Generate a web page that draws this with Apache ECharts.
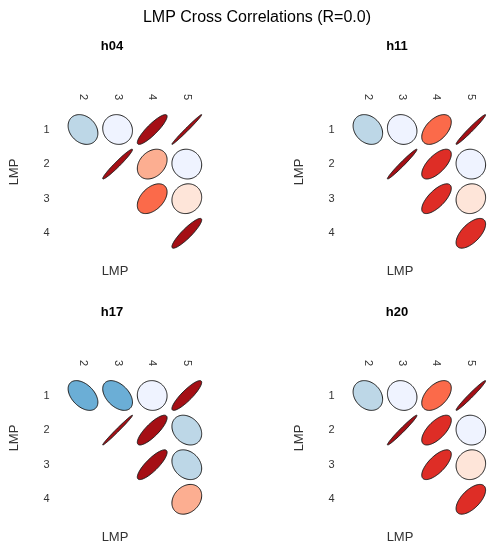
<!DOCTYPE html>
<html>
<head>
<meta charset="utf-8">
<script src="https://cdn.jsdelivr.net/npm/echarts@6/dist/echarts.min.js"></script>
<style>html,body{margin:0;padding:0;background:#fff;}#c{width:488px;height:544px;}</style>
</head>
<body>
<div id="c"></div>
<script>
// Category labels
const colLabels = ['2', '3', '4', '5'];
const rowLabels = ['1', '2', '3', '4'];
const panelNames = ['h04', 'h11', 'h17', 'h20'];
const mainTitle = 'LMP Cross Correlations (R=0.0)';
const axisName = 'LMP';

// Upper-triangle correlations, row by row:
// row1: c2,c3,c4,c5 | row2: c3,c4,c5 | row3: c4,c5 | row4: c5
const h04 = [-0.25, -0.08, 0.88, 0.99, 0.97, 0.30, -0.05, 0.45, 0.10, 0.90];
const h11 = [-0.25, -0.10, 0.50, 0.98, 0.98, 0.66, -0.05, 0.70, 0.08, 0.62];
const h17 = [-0.45, -0.45, -0.03, 0.88, 0.99, 0.82, -0.25, 0.83, -0.25, 0.25];
const h20 = [-0.25, -0.12, 0.50, 0.98, 0.98, 0.66, -0.05, 0.70, 0.08, 0.62];
const panelValues = [h04, h11, h17, h20];

const palette = ['#08519C', '#3182BD', '#6BAED6', '#BDD7E7', '#EFF3FF',
                 '#FEE5D9', '#FCAE91', '#FB6A4A', '#DE2D26', '#A50F15'];
function colorFor(r) {
  let idx = Math.floor((r + 1) * 5);
  if (idx > 9) idx = 9;
  if (idx < 0) idx = 0;
  return palette[idx];
}

function toCells(vals) {
  const out = [];
  let k = 0;
  for (let i = 0; i < rowLabels.length; i++) {
    for (let j = i; j < colLabels.length; j++) {
      out.push([j, i, vals[k++]]);
    }
  }
  return out;
}

const FONT = '"Liberation Sans", Arial, sans-serif';
const cell = 34.6;
const gw = cell * 4, gh = cell * 4;
const offX = 285, offY = 266;
const baseLeft = 65.7, baseTop = 112.2;

const grids = [], xAxes = [], yAxes = [], series = [], graphics = [];

graphics.push({
  type: 'text', x: 257, y: 18,
  style: {text: mainTitle, font: '16px ' + FONT, fill: '#000', textAlign: 'center', textVerticalAlign: 'middle'}
});

panelNames.forEach((name, p) => {
  const ox = (p % 2) * offX, oy = Math.floor(p / 2) * offY;
  grids.push({left: baseLeft + ox, top: baseTop + oy, width: gw, height: gh});
  xAxes.push({
    type: 'category', gridIndex: p, data: colLabels, position: 'top',
    axisLine: {show: false}, axisTick: {show: false}, splitLine: {show: false},
    axisLabel: {rotate: 90, margin: 12, fontSize: 11, color: '#333', fontFamily: FONT, interval: 0}
  });
  yAxes.push({
    type: 'category', gridIndex: p, data: rowLabels, inverse: true,
    axisLine: {show: false}, axisTick: {show: false}, splitLine: {show: false},
    axisLabel: {margin: 16, fontSize: 11, color: '#333', fontFamily: FONT, interval: 0}
  });
  series.push({
    type: 'custom', xAxisIndex: p, yAxisIndex: p,
    data: toCells(panelValues[p]),
    renderItem: function (params, api) {
      const c = api.coord([api.value(0), api.value(1)]);
      const s = api.size([1, 1]);
      const r = api.value(2);
      const d = Math.acos(Math.max(-1, Math.min(1, r)));
      const pts = [];
      const n = 100;
      for (let k = 0; k < n; k++) {
        const a = 2 * Math.PI * k / (n - 1);
        pts.push([c[0] + 0.43 * s[0] * Math.cos(a + d / 2),
                  c[1] - 0.43 * s[1] * Math.cos(a - d / 2)]);
      }
      return {
        type: 'polygon', shape: {points: pts},
        style: {fill: colorFor(r), stroke: '#1a1a1a', lineWidth: 1}
      };
    }
  });
  graphics.push({
    type: 'text', x: 112 + ox, y: 46 + oy,
    style: {text: name, font: 'bold 13px ' + FONT, fill: '#000', textAlign: 'center', textVerticalAlign: 'middle'}
  });
  graphics.push({
    type: 'text', x: 115 + ox, y: 271 + oy,
    style: {text: axisName, font: '13px ' + FONT, fill: '#333', textAlign: 'center', textVerticalAlign: 'middle'}
  });
  graphics.push({
    type: 'text', x: 14 + ox, y: 172 + oy, rotation: Math.PI / 2,
    style: {text: axisName, font: '13px ' + FONT, fill: '#333', textAlign: 'center', textVerticalAlign: 'middle'}
  });
});

const chart = echarts.init(document.getElementById('c'), null, {renderer: 'canvas'});
chart.setOption({
  backgroundColor: '#fff',
  animation: false,
  grid: grids, xAxis: xAxes, yAxis: yAxes, series: series,
  graphic: graphics
});
</script>
</body>
</html>
